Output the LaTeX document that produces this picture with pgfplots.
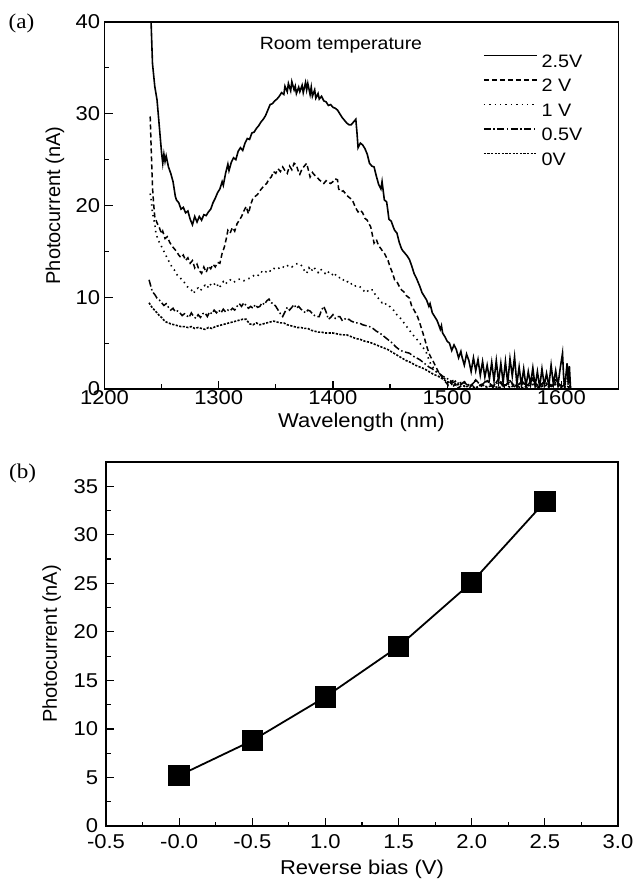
\documentclass[border=0pt]{standalone}
\usepackage{fontspec}
\setmainfont[FakeStretch=1.1]{Liberation Sans}
\newfontfamily\plainsans{Liberation Sans}
\newfontfamily\timesfont[FakeStretch=1.1]{Liberation Serif}
\usepackage{pgfplots}
\pgfplotsset{compat=1.18}
\pgfplotsset{
  common/.style={
    scale only axis,
    axis line style={line width=1.4bp},
    tick align=inside, tick pos=left,
    major tick length=8bp, minor tick length=4.5bp,
    every tick/.style={line width=1.2bp, black},
    tick label style={font=\fontsize{20bp}{24bp}\selectfont},
    label style={font=\fontsize{20bp}{24bp}\selectfont},
    ylabel style={font=\plainsans\fontsize{20bp}{24bp}\selectfont},
    /pgf/number format/assume math mode=true,
    /pgf/number format/1000 sep={},
  },
  s25/.style={black, solid, line width=1.6bp},
  s2/.style={black, line width=1.5bp, dash pattern=on 5bp off 3bp},
  s1/.style={black, line width=1.6bp, dash pattern=on 1.4bp off 4bp},
  s05/.style={black, line width=1.5bp, dash pattern=on 7bp off 2.5bp on 1.5bp off 2.5bp},
  s0/.style={black, line width=1.6bp, dash pattern=on 2.2bp off 1.4bp},
}
\begin{document}
\begin{tikzpicture}
\begin{axis}[common, at={(104.5bp,493bp)}, anchor=south west, width=514bp, height=367bp,
  xmin=1200, xmax=1650, ymin=0, ymax=40,
  xtick={1200,1300,1400,1500,1600}, minor xtick={1250,1350,1450,1550},
  ytick={0,10,20,30,40}, minor ytick={5,15,25,35},
  xticklabel style={yshift=2.2bp}, yticklabel style={xshift=-0.8bp},
  xlabel={Wavelength (nm)}, ylabel={Photocurrent (nA)},
  xlabel style={at={(axis description cs:0.5,0)}, anchor=center, yshift=-33bp},
  ylabel style={at={(axis description cs:-0.0963,0.5)}, anchor=center},
  legend style={at={(rel axis cs:0.736,0.912)}, anchor=north west, draw=none, fill=none,
    inner sep=0pt, font=\fontsize{18bp}{21bp}\selectfont, row sep=11.5bp, column sep=4bp,
    nodes={inner sep=0bp, text height=13bp, text depth=0bp}},
  legend cell align=left,
  legend image code/.code={\draw[#1] (0bp,5.5bp) -- (53bp,5.5bp);},
]
\addplot[s25] table {
1240.5 41
1242 35.5
1244 33.0
1246 31.5
1248 28.6
1250 25.7
1251 24.6
1252 25.6
1253 24.8
1254 25.4
1256 24.2
1258 23.5
1260 22.6
1262 21.0
1263 20.6
1265 20.3
1267 19.6
1269 19.8
1271 19.2
1273 19.4
1275 18.5
1277 17.9
1279 18.8
1281 18.2
1283 18.8
1285 18.4
1287 19.0
1289 18.9
1291 19.3
1293 19.6
1295 20.3
1297 20.8
1299 21.4
1301 21.8
1303 22.6
1304 22.2
1306 23.5
1308 24.5
1309 23.8
1311 24.7
1313 25.2
1315 25.0
1317 25.9
1319 26.3
1321 26.0
1323 26.8
1325 27.3
1327 27.2
1329 27.9
1331 28.0
1333 28.4
1335 28.7
1337 29.1
1339 29.4
1341 29.8
1343 30.4
1345 31.0
1347 31.1
1349 31.4
1351 31.6
1353 31.9
1355 32.3
1357 32.1
1358 33.0
1360 32.4
1361 33.3
1363 32.5
1364 33.5
1366 32.6
1367 33.0
1368 32.2
1370 32.9
1371 32.4
1373 33.1
1374 32.3
1376 33.4
1377 32.6
1378 33.3
1380 32.1
1381 32.9
1382 31.9
1384 32.6
1385 31.7
1387 32.2
1388 31.6
1390 31.9
1392 31.4
1394 31.3
1396 30.9
1398 31.0
1400 30.7
1402 30.6
1404 30.4
1406 30.0
1408 29.6
1410 29.3
1412 29.0
1414 28.8
1416 28.8
1418 29.1
1420 29.4
1421 28.0
1422 26.3
1424 26.8
1426 26.6
1428 26.2
1430 25.6
1432 24.6
1434 24.3
1436 24.2
1438 23.2
1440 22.3
1442 21.8
1443 22.6
1445 20.6
1447 20.4
1448 19.5
1449 18.5
1451 18.3
1453 17.6
1454 17.3
1456 17.0
1458 16.0
1460 15.3
1461 15.1
1463 14.8
1465 14.5
1467 14.1
1469 13.4
1471 12.6
1473 12.1
1475 11.5
1476 11.2
1478 10.5
1480 10.1
1482 9.7
1484 9.0
1485 9.3
1487 8.3
1489 7.9
1491 7.5
1492 7.2
1494 6.5
1495 6.9
1496 6.1
1498 5.7
1500 5.2
1502 5.0
1504 4.2
1506 4.8
1508 4.3
1510 3.4
1512 4.1
1513 3.5
1515 2.6
1517 3.8
1519 3.1
1521 1.9
1523 3.4
1525 2.0
1527 3.2
1529 1.5
1531 3.0
1533 1.3
1535 2.6
1537 1.1
1539 2.9
1541 0.9
1543 3.1
1545 0.8
1547 2.8
1549 0.7
1551 3.0
1553 0.6
1555 3.3
1557 1.4
1559 3.5
1561 0.5
1563 2.4
1565 0.4
1567 2.2
1569 0.3
1571 1.9
1573 0.5
1575 2.3
1577 0.3
1579 1.9
1581 0.2
1583 2.2
1585 0.4
1587 1.7
1589 0.3
1591 2.6
1593 0.5
1595 2.0
1597 0.4
1599 2.3
1601 3.9
1602 1.2
1603 0.3
1605 2.8
1606 0.6
1607 2.5
1608 0.1
};
\addlegendentry{2.5V}
\addplot[s2] table {
1240 29.7
1241 25.7
1242 22.0
1243 20.2
1244 18.8
1246 18.1
1248 17.6
1250 16.9
1251 17.2
1253 16.4
1255 16.6
1257 16.0
1259 15.6
1261 15.3
1263 15.0
1265 14.6
1267 14.3
1269 14.6
1271 14.0
1273 14.3
1275 13.7
1277 14.0
1279 13.2
1281 13.6
1283 12.9
1285 12.6
1287 13.3
1289 12.7
1291 13.4
1293 13.1
1295 13.6
1297 13.3
1299 13.8
1301 13.7
1303 14.8
1305 15.5
1307 16.6
1308 17.3
1310 17.0
1312 17.6
1314 17.2
1316 18.0
1318 18.4
1320 18.8
1322 19.4
1324 19.9
1326 19.1
1328 20.1
1330 20.8
1332 21.0
1334 21.2
1336 21.6
1338 21.9
1340 22.2
1342 22.4
1344 22.9
1346 23.1
1348 23.7
1350 23.5
1352 24.0
1354 23.7
1356 24.2
1358 23.8
1360 23.5
1362 24.3
1364 23.9
1366 24.6
1368 24.4
1370 23.6
1371 23.4
1373 24.0
1375 24.3
1377 24.6
1379 23.6
1380 23.1
1382 23.6
1384 23.3
1386 23.1
1388 22.8
1390 22.6
1392 22.4
1394 22.7
1396 22.5
1398 22.4
1400 22.6
1402 22.9
1404 22.8
1405 21.8
1407 21.5
1409 21.6
1411 21.3
1413 21.0
1415 20.8
1417 20.6
1419 20.0
1421 19.5
1422 19.3
1424 19.5
1426 19.2
1428 18.6
1430 18.4
1432 17.9
1433 17.7
1435 16.5
1436 15.9
1438 16.3
1440 15.6
1442 15.3
1443 15.1
1445 14.8
1447 14.3
1448 14.1
1450 13.3
1452 12.7
1454 11.9
1456 11.7
1458 11.2
1460 10.8
1462 10.6
1464 10.2
1467 9.9
1469 9.0
1471 8.6
1474 7.9
1476 7.2
1478 6.4
1480 5.6
1482 4.7
1484 3.9
1486 3.4
1487 3.2
1489 2.7
1491 2.2
1493 1.7
1495 1.4
1497 1.0
1499 0.7
1501 0.4
1503 0.8
1505 0.2
1507 0.6
1510 0.1
1515 0.7
1520 0.2
1525 1.0
1530 0.3
1535 0.9
1540 0.2
1545 1.1
1550 0.3
1555 0.8
1560 0.1
1565 0.9
1570 0.3
1575 1.2
1580 0.2
1585 0.8
1590 0.4
1595 1.0
1600 0.3
1605 1.4
1608 0.2
};
\addlegendentry{2 V}
\addplot[s1] table {
1240 21.3
1241 20.5
1242 19.2
1244 18.0
1245 17.0
1247 16.2
1249 15.8
1251 15.2
1253 14.8
1255 14.2
1257 13.8
1259 13.3
1261 13.0
1263 12.5
1266 12.2
1268 11.8
1270 11.6
1272 11.2
1274 11.0
1276 10.8
1278 10.4
1280 10.9
1282 11.0
1284 10.7
1286 11.1
1288 11.3
1290 11.0
1292 11.5
1294 11.2
1296 11.4
1298 11.6
1300 11.0
1302 11.3
1304 11.7
1306 11.4
1308 11.8
1310 11.9
1313 11.6
1316 11.9
1319 12.0
1322 11.8
1325 12.0
1328 12.1
1331 12.4
1334 12.3
1337 12.8
1340 12.6
1343 13.0
1346 12.8
1349 13.2
1352 13.1
1355 13.4
1358 13.2
1361 13.5
1364 13.3
1367 13.6
1370 13.7
1373 13.4
1375 12.9
1377 12.6
1379 13.2
1381 12.8
1383 13.3
1385 13.0
1387 12.7
1389 13.1
1391 12.8
1393 12.6
1395 12.9
1397 12.6
1399 12.4
1401 12.7
1403 12.3
1405 12.1
1407 12.2
1409 11.9
1411 11.6
1413 11.7
1415 11.4
1417 11.5
1419 11.2
1421 11.3
1423 11.2
1425 11.0
1427 10.7
1429 10.9
1431 10.6
1433 10.8
1435 10.8
1437 10.3
1439 10.0
1441 9.7
1443 9.4
1445 9.5
1447 9.1
1449 9.1
1451 8.8
1453 8.6
1455 8.2
1458 7.9
1461 7.4
1464 6.9
1467 6.4
1470 5.9
1473 5.5
1476 5.0
1479 4.5
1482 3.9
1484 3.2
1486 2.6
1488 2.3
1490 2.0
1493 1.7
1496 1.3
1499 1.0
1502 0.6
1505 0.9
1508 0.4
1512 0.7
1516 0.2
1520 0.6
1525 0.1
1530 0.5
1535 0.2
1540 0.7
1545 0.1
1550 0.4
1555 0.6
1560 0.1
1565 0.5
1570 0.2
1575 0.8
1580 0.1
1585 0.6
1590 0.2
1595 0.7
1600 0.3
1605 0.9
1608 0.2
};
\addlegendentry{1 V}
\addplot[s05] table {
1239 11.9
1241 11.0
1242 10.6
1244 10.3
1246 9.9
1248 9.7
1250 9.4
1252 9.1
1254 9.3
1256 8.9
1258 8.6
1260 8.8
1262 8.4
1264 8.5
1266 8.3
1268 8.0
1270 8.2
1272 8.0
1274 7.8
1276 8.3
1278 7.9
1280 7.7
1282 8.1
1284 7.8
1286 8.2
1288 8.3
1290 7.9
1292 8.4
1294 8.2
1296 8.6
1298 8.3
1300 8.6
1302 8.3
1304 8.7
1306 8.4
1308 8.6
1310 8.5
1312 8.8
1314 8.6
1316 9.0
1318 9.3
1320 9.0
1322 9.4
1324 9.1
1326 8.8
1328 9.0
1330 8.8
1332 9.2
1334 8.9
1336 9.0
1338 9.4
1340 9.2
1342 9.6
1344 9.8
1346 9.4
1348 9.3
1350 9.0
1352 8.6
1354 8.2
1356 7.9
1358 8.4
1360 8.9
1362 8.6
1364 8.9
1366 9.2
1368 8.8
1370 9.0
1372 8.7
1374 8.5
1376 8.3
1378 8.6
1380 8.5
1382 8.2
1384 8.0
1386 7.9
1388 7.9
1390 8.6
1392 9.0
1394 8.4
1396 7.6
1398 7.8
1400 8.1
1402 7.7
1404 7.9
1406 7.9
1408 7.5
1410 7.7
1412 7.5
1414 7.6
1416 7.4
1418 7.3
1420 7.2
1423 7.2
1426 7.0
1429 6.9
1432 6.8
1435 6.6
1438 6.3
1441 6.1
1444 5.8
1447 5.5
1449 5.3
1452 5.0
1455 4.6
1458 4.3
1461 4.1
1464 4.0
1467 3.9
1470 3.6
1473 3.4
1476 3.2
1479 2.9
1482 2.6
1484 2.4
1487 2.2
1490 1.9
1493 1.7
1496 1.4
1499 1.2
1502 1.0
1505 0.7
1508 0.9
1511 0.4
1515 0.8
1520 0.3
1525 0.9
1530 0.4
1535 1.0
1540 0.2
1545 0.8
1550 0.3
1555 0.9
1560 0.2
1565 0.7
1570 0.4
1575 1.0
1580 0.2
1585 0.8
1590 0.3
1595 0.6
1600 0.2
1605 0.7
1608 0.1
};
\addlegendentry{0.5V}
\addplot[s0] table {
1239 9.4
1241 9.0
1243 8.7
1246 8.3
1248 8.0
1250 7.8
1252 7.5
1254 7.3
1256 7.2
1258 7.1
1261 7.0
1264 6.9
1267 6.8
1270 6.8
1273 6.7
1276 6.8
1279 6.6
1282 6.7
1285 6.6
1288 6.5
1291 6.7
1294 6.6
1297 6.8
1300 6.9
1303 7.0
1306 7.1
1309 7.2
1312 7.3
1315 7.4
1318 7.5
1321 7.6
1324 7.6
1327 7.1
1330 7.0
1333 7.2
1336 7.0
1339 7.1
1342 7.2
1345 7.3
1348 7.4
1351 7.3
1354 7.2
1357 7.2
1360 7.0
1363 6.9
1366 6.8
1369 6.7
1372 6.7
1375 6.6
1378 6.6
1381 6.4
1384 6.3
1387 6.2
1390 6.2
1393 6.1
1396 6.1
1400 6.1
1404 6.0
1408 5.9
1412 5.9
1416 5.7
1420 5.5
1424 5.4
1428 5.2
1432 5.1
1436 4.9
1440 4.7
1444 4.5
1448 4.3
1452 4.0
1456 3.7
1460 3.4
1464 3.1
1468 2.9
1472 2.6
1476 2.4
1480 2.2
1484 1.9
1488 1.6
1492 1.4
1496 1.1
1500 0.8
1504 0.6
1508 0.4
1512 0.6
1516 0.2
1520 0.4
1525 0.1
1530 0.5
1535 0.2
1540 0.4
1545 0.1
1550 0.5
1555 0.2
1560 0.4
1565 0.1
1570 0.3
1575 0.5
1580 0.1
1585 0.4
1590 0.2
1595 0.5
1600 0.1
1605 0.3
1608 0.1
};
\addlegendentry{0V}
\node[font=\fontsize{17.7bp}{21bp}\selectfont] at (axis cs:1407,37.5) {Room temperature};
\end{axis}
\begin{axis}[common, at={(106bp,56bp)}, anchor=south west, width=512bp, height=364bp,
  xmin=-0.5, xmax=3.0, ymin=0, ymax=37.5,
  xtick={-0.5,0,0.5,1,1.5,2,2.5,3},
  xticklabels={-0.5,-0.0,-0.5,1.0,1.5,2.0,2.5,3.0},
  minor x tick num=1,
  ytick={0,5,10,15,20,25,30,35}, minor y tick num=1,
  xticklabel style={yshift=-5bp}, yticklabel style={xshift=-4.3bp},
  xlabel={Reverse bias (V)}, ylabel={Photocurrent (nA)},
  xlabel style={at={(axis description cs:0.5,0)}, anchor=center, yshift=-43bp},
  ylabel style={at={(axis description cs:-0.106,0.5)}, anchor=center},
]
\addplot[black, line width=1.8bp, mark=square*, mark size=9.8bp, mark options={solid, fill=black}] coordinates {
(0,5.2) (0.5,8.8) (1.0,13.3) (1.5,18.5) (2.0,25.1) (2.5,33.4)
};
\end{axis}
\node[font=\timesfont\fontsize{21bp}{24bp}\selectfont] at (21.5bp,858.5bp) {(a)};
\node[font=\timesfont\fontsize{21bp}{24bp}\selectfont] at (22.7bp,409bp) {(b)};
\pgfresetboundingbox
\path[use as bounding box] (0bp,0bp) rectangle (633bp,882bp);
\end{tikzpicture}
\end{document}
